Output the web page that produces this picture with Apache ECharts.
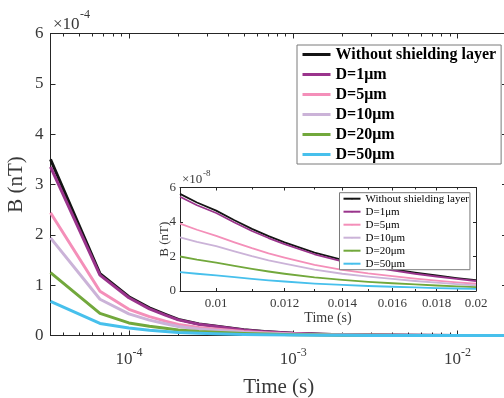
<!DOCTYPE html>
<html><head><meta charset="utf-8">
<script src="https://cdn.jsdelivr.net/npm/echarts@6/dist/echarts.min.js"></script>
<style>html,body{margin:0;padding:0;background:#fff}#c{width:504px;height:398px}</style>
</head><body><div id="c"></div>
<script>
// ---------- data ----------
const seriesNames = ['Without shielding layer','D=1μm','D=5μm','D=10μm','D=20μm','D=50μm'];
const seriesColors = ['#141414','#9a348c','#f48fb9','#cbb3d8','#72a83c','#47c0ec'];

// main plot: time (s), B in units of 1e-4 nT
const mainTimes = [3.3333e-5, 6.6667e-5, 1.0e-4, 1.3333e-4, 1.6667e-4, 2.0e-4, 2.6667e-4, 3.3333e-4, 5.0e-4, 6.6667e-4, 1.0e-3, 1.5e-3, 2.0e-3, 3.0e-3, 5.0e-3, 1.0e-2, 2.0e-2];
const mainNoShield = [3.50, 1.23, 0.77, 0.55, 0.42, 0.32, 0.23, 0.19, 0.115, 0.08, 0.045, 0.025, 0.016, 0.008, 0.003, 0.0005, 0.00006];
const mainD1  = [3.35, 1.20, 0.75, 0.53, 0.405, 0.31, 0.222, 0.183, 0.11, 0.077, 0.043, 0.024, 0.0154, 0.0077, 0.0029, 0.00048, 0.00005];
const mainD5  = [2.44, 0.88, 0.52, 0.375, 0.285, 0.22, 0.158, 0.13, 0.079, 0.055, 0.031, 0.017, 0.011, 0.0055, 0.002, 0.00033, 0.00004];
const mainD10 = [1.94, 0.72, 0.43, 0.305, 0.232, 0.178, 0.128, 0.105, 0.064, 0.044, 0.025, 0.014, 0.009, 0.0045, 0.0017, 0.00027, 0.00003];
const mainD20 = [1.25, 0.44, 0.25, 0.185, 0.142, 0.11, 0.08, 0.066, 0.04, 0.028, 0.016, 0.0088, 0.0057, 0.0028, 0.001, 0.00017, 0.00002];
const mainD50 = [0.68, 0.24, 0.15, 0.104, 0.078, 0.06, 0.044, 0.036, 0.022, 0.015, 0.0088, 0.0048, 0.0031, 0.0015, 0.0006, 0.0001, 0.00001];

// inset: time (s), B in units of 1e-8 nT
const insetTimes = [0.00908, 0.0095, 0.010, 0.0105, 0.011, 0.0115, 0.012, 0.013, 0.014, 0.015, 0.016, 0.017, 0.018, 0.019, 0.020];
const insetNoShield = [5.63, 5.13, 4.66, 4.10, 3.60, 3.18, 2.82, 2.22, 1.80, 1.50, 1.27, 1.07, 0.90, 0.75, 0.63];
const insetD1  = [5.46, 4.97, 4.52, 3.97, 3.48, 3.07, 2.72, 2.13, 1.72, 1.43, 1.20, 1.00, 0.84, 0.70, 0.58];
const insetD5  = [3.91, 3.55, 3.20, 2.82, 2.48, 2.18, 1.94, 1.52, 1.23, 1.02, 0.86, 0.72, 0.60, 0.50, 0.42];
const insetD10 = [3.11, 2.85, 2.60, 2.30, 2.02, 1.78, 1.58, 1.24, 1.00, 0.83, 0.70, 0.58, 0.48, 0.40, 0.33];
const insetD20 = [2.00, 1.82, 1.65, 1.45, 1.28, 1.13, 1.00, 0.79, 0.64, 0.53, 0.45, 0.38, 0.32, 0.27, 0.22];
const insetD50 = [1.10, 1.00, 0.91, 0.80, 0.70, 0.62, 0.55, 0.43, 0.35, 0.29, 0.245, 0.205, 0.17, 0.145, 0.12];

// ticks
const mainXMax = 0.02;
const mainXMajor = [1e-4, 1e-3, 1e-2];
const mainXMajorExp = ['-4', '-3', '-2'];
const mainXMinor = [4e-5,5e-5,6e-5,7e-5,8e-5,9e-5, 2e-4,3e-4,4e-4,5e-4,6e-4,7e-4,8e-4,9e-4, 2e-3,3e-3,4e-3,5e-3,6e-3,7e-3,8e-3,9e-3];
const mainYTicks = [0,1,2,3,4,5,6];
const insetXMax = 0.02;
const insetXMajor = [0.01, 0.012, 0.014, 0.016, 0.018, 0.02];
const insetXMajorLabels = ['0.01','0.012','0.014','0.016','0.018','0.02'];
const insetXMinor = [0.011, 0.013, 0.015, 0.017, 0.019];
const insetYTicks = [0,2,4,6];

// ---------- chart ----------
const FONT = '"Liberation Serif","Times New Roman",serif';
const TXT = '#383838';
const AX = '#262626';
const L = Math.log10;
const mainSets = [mainNoShield, mainD1, mainD5, mainD10, mainD20, mainD50];
const insetSets = [insetNoShield, insetD1, insetD5, insetD10, insetD20, insetD50];
function findIdx(vals, v){ return vals.findIndex(t => Math.abs(L(t) - v) < 1e-9); }

function tickAxis(grid, lo, hi, pos, ticks, len, line, label, name){
  const a = {
    gridIndex: grid, type: 'value', min: L(lo), max: L(hi), position: pos,
    axisLine: {show: line, lineStyle: {color: AX, width: 1}},
    axisTick: {show: true, inside: true, length: len, customValues: ticks.map(L), lineStyle: {color: AX, width: 1}},
    axisLabel: label ? Object.assign({customValues: ticks.map(L)}, label) : {show: false},
    splitLine: {show: false}, nameMoveOverlap: false
  };
  if (name) Object.assign(a, name);
  return a;
}

const mainXMin = mainTimes[0];
const insetXMin = insetTimes[0];

const xAxis = [
  {gridIndex: 0, type: 'log', logBase: 10, min: mainXMin, max: mainXMax, show: false},
  tickAxis(0, mainXMin, mainXMax, 'bottom', mainXMajor, 5, true, {
    margin: 11,
    formatter: v => '{b|10}{s|' + mainXMajorExp[findIdx(mainXMajor, v)] + '}',
    rich: {b: {fontSize: 17, fontFamily: FONT, color: TXT}, s: {fontSize: 12, fontFamily: FONT, color: TXT, padding: [0,0,15,0]}}
  }, {name: 'Time (s)', nameLocation: 'middle', nameGap: 41, nameTextStyle: {fontSize: 21, fontFamily: FONT, color: TXT}}),
  tickAxis(0, mainXMin, mainXMax, 'bottom', mainXMinor, 3, false, null),
  tickAxis(0, mainXMin, mainXMax, 'top', mainXMajor, 5, true, null),
  tickAxis(0, mainXMin, mainXMax, 'top', mainXMinor, 3, false, null),
  {gridIndex: 1, type: 'log', logBase: 10, min: insetXMin, max: insetXMax, show: false},
  tickAxis(1, insetXMin, insetXMax, 'bottom', insetXMajor, 3, true, {
    margin: 6, fontSize: 13, fontFamily: FONT, color: TXT,
    formatter: v => insetXMajorLabels[findIdx(insetXMajor, v)]
  }, {name: 'Time (s)', nameLocation: 'middle', nameGap: 20, nameTextStyle: {fontSize: 14, fontFamily: FONT, color: TXT}}),
  tickAxis(1, insetXMin, insetXMax, 'bottom', insetXMinor, 2, false, null),
  tickAxis(1, insetXMin, insetXMax, 'top', insetXMajor, 3, true, null),
  tickAxis(1, insetXMin, insetXMax, 'top', insetXMinor, 2, false, null)
];

function yAx(grid, ticks, pos, len, label, name){
  const a = {
    gridIndex: grid, type: 'value', min: ticks[0], max: ticks[ticks.length-1], interval: ticks[1]-ticks[0], position: pos,
    axisLine: {show: true, lineStyle: {color: AX, width: 1}},
    axisTick: {show: true, inside: true, length: len, lineStyle: {color: AX}},
    axisLabel: label || {show: false}, splitLine: {show: false}, nameMoveOverlap: false
  };
  if (name) Object.assign(a, name);
  return a;
}
const yAxis = [
  yAx(0, mainYTicks, 'left', 5, {margin: 7, fontSize: 17, fontFamily: FONT, color: TXT},
      {name: 'B (nT)', nameLocation: 'middle', nameGap: 24, nameTextStyle: {fontSize: 21, fontFamily: FONT, color: TXT}}),
  yAx(0, mainYTicks, 'right', 5, null),
  yAx(1, insetYTicks, 'left', 3, {margin: 4, fontSize: 13, fontFamily: FONT, color: TXT},
      {name: 'B (nT)', nameLocation: 'middle', nameGap: 9, nameTextStyle: {fontSize: 13, fontFamily: FONT, color: TXT}}),
  yAx(1, insetYTicks, 'right', 3, null)
];

const series = [];
seriesNames.forEach((n, k) => series.push({
  name: n, type: 'line', xAxisIndex: 0, yAxisIndex: 0, symbol: 'none', color: seriesColors[k],
  lineStyle: {width: 3, color: seriesColors[k], join: 'round'},
  data: mainTimes.map((t, i) => [t, mainSets[k][i]])
}));
seriesNames.forEach((n, k) => series.push({
  name: n, type: 'line', xAxisIndex: 5, yAxisIndex: 2, symbol: 'none', color: seriesColors[k],
  lineStyle: {width: 1.8, color: seriesColors[k], join: 'round'},
  data: insetTimes.map((t, i) => [t, insetSets[k][i]])
}));

const option = {
  animation: false,
  backgroundColor: '#fff',
  grid: [
    {left: 50.5, top: 33.5, width: 456.5, height: 302, show: true, backgroundColor: '#fff', borderWidth: 0, outerBoundsMode: 'none'},
    {left: 180, top: 187.5, width: 296, height: 103.5, show: true, backgroundColor: '#fff', borderWidth: 0, outerBoundsMode: 'none'}
  ],
  xAxis, yAxis, series,
  legend: [
    {data: seriesNames, orient: 'vertical', left: 297, top: 45, itemWidth: 28, itemHeight: 3, itemGap: 1,
     padding: [0,5,0,4], borderColor: '#7a7a7a', borderWidth: 1, backgroundColor: '#fff', selectedMode: false,
     lineStyle: {width: 3},
     textStyle: {fontFamily: FONT, fontSize: 16, fontWeight: 'bold', color: '#000', lineHeight: 19}},
    {data: seriesNames, orient: 'vertical', left: 339.5, top: 192.7, itemWidth: 17, itemHeight: 2, itemGap: 1,
     padding: [0,1,0,3], borderColor: '#7a7a7a', borderWidth: 1, backgroundColor: '#fff', selectedMode: false,
     lineStyle: {width: 2},
     textStyle: {fontFamily: FONT, fontSize: 11, color: '#000', lineHeight: 12}}
  ],
  graphic: [
    {type: 'text', x: 53, y: 25, style: {text: '×10', fontFamily: FONT, fontSize: 17, fill: TXT, verticalAlign: 'middle'}},
    {type: 'text', x: 80, y: 15, style: {text: '-4', fontFamily: FONT, fontSize: 12, fill: TXT, verticalAlign: 'middle'}},
    {type: 'text', x: 182, y: 180, style: {text: '×10', fontFamily: FONT, fontSize: 13, fill: TXT, verticalAlign: 'middle'}},
    {type: 'text', x: 203, y: 174, style: {text: '-8', fontFamily: FONT, fontSize: 9, fill: TXT, verticalAlign: 'middle'}}
  ]
};
const chart = echarts.init(document.getElementById('c'), null, {renderer: 'canvas'});
chart.setOption(option);
</script></body></html>
